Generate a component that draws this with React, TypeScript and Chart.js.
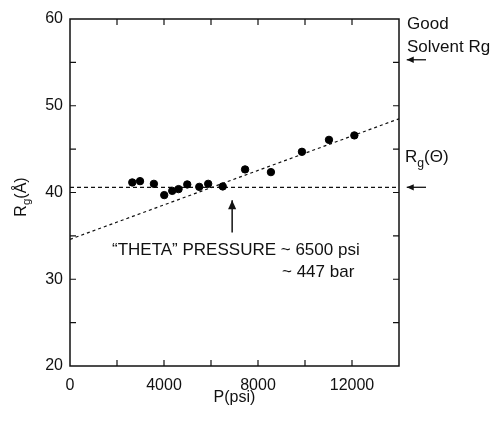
import React, { useEffect, useRef } from "react";
import { Chart, registerables } from "chart.js";

Chart.register(...registerables);

// Data
const pressurePsi = [2650, 2980, 3570, 4010, 4350, 4620, 4990, 5500, 5880, 6500, 7450, 8550, 9870, 11020, 12100];
const rgAngstrom = [41.16, 41.31, 41.0, 39.7, 40.19, 40.39, 40.93, 40.65, 41.0, 40.7, 42.66, 42.35, 44.69, 46.07, 46.58];

const thetaLineX = [0, 14000];
const thetaLineY = [40.6, 40.6];
const fitLineX = [0, 14000];
const fitLineY = [34.6, 48.5];

const xTickLabels = [0, 4000, 8000, 12000];
const yTickLabels = [20, 30, 40, 50, 60];

// arrows (data units)
const thetaArrow = { x: 6900, yFrom: 35.4, yTo: 39.1 };
const goodSolventArrowY = 55.3;
const thetaRgArrowY = 40.6;
const sideArrowX = [15150, 14330];

const FONT = "'Liberation Sans', Arial, Helvetica, sans-serif";

function drawRg(ctx: CanvasRenderingContext2D, x: number, y: number, suffix: string, size: number) {
  ctx.font = `${size}px ${FONT}`;
  ctx.textBaseline = "alphabetic";
  ctx.textAlign = "left";
  ctx.fillText("R", x, y);
  let w = ctx.measureText("R").width;
  ctx.font = `${size * 0.72}px ${FONT}`;
  ctx.fillText("g", x + w, y + size * 0.28);
  w += ctx.measureText("g").width;
  ctx.font = `${size}px ${FONT}`;
  ctx.fillText(suffix, x + w, y);
}

const framePlugin = {
  id: "framePlugin",
  afterDatasetsDraw(chart: any) {
    const { ctx, chartArea } = chart;
    const xs = chart.scales.x;
    const ys = chart.scales.y;
    const { left, right, top, bottom } = chartArea;
    ctx.save();
    ctx.strokeStyle = "#111";
    ctx.fillStyle = "#111";
    ctx.lineWidth = 1.5;
    ctx.strokeRect(left, top, right - left, bottom - top);
    ctx.lineWidth = 1.2;
    const tl = 6;
    for (let v = 2000; v < 14000; v += 2000) {
      const px = xs.getPixelForValue(v);
      ctx.beginPath();
      ctx.moveTo(px, bottom);
      ctx.lineTo(px, bottom - tl);
      ctx.moveTo(px, top);
      ctx.lineTo(px, top + tl);
      ctx.stroke();
    }
    for (let v = 25; v < 60; v += 5) {
      const py = ys.getPixelForValue(v);
      ctx.beginPath();
      ctx.moveTo(left, py);
      ctx.lineTo(left + tl, py);
      ctx.moveTo(right, py);
      ctx.lineTo(right - tl, py);
      ctx.stroke();
    }

    // arrows
    const arrow = (x1: number, y1: number, x2: number, y2: number, head: number) => {
      ctx.beginPath();
      ctx.moveTo(x1, y1);
      ctx.lineTo(x2, y2);
      ctx.stroke();
      const ang = Math.atan2(y2 - y1, x2 - x1);
      ctx.beginPath();
      ctx.moveTo(x2, y2);
      ctx.lineTo(x2 - head * Math.cos(ang) + head * 0.45 * Math.sin(ang), y2 - head * Math.sin(ang) - head * 0.45 * Math.cos(ang));
      ctx.lineTo(x2 - head * Math.cos(ang) - head * 0.45 * Math.sin(ang), y2 - head * Math.sin(ang) + head * 0.45 * Math.cos(ang));
      ctx.closePath();
      ctx.fill();
    };
    ctx.lineWidth = 1.5;
    const ax = xs.getPixelForValue(thetaArrow.x);
    arrow(ax, ys.getPixelForValue(thetaArrow.yFrom), ax, ys.getPixelForValue(thetaArrow.yTo), 9);
    const sx1 = xs.getPixelForValue(sideArrowX[0]);
    const sx2 = xs.getPixelForValue(sideArrowX[1]);
    ctx.lineWidth = 1.3;
    arrow(sx1, ys.getPixelForValue(goodSolventArrowY), sx2, ys.getPixelForValue(goodSolventArrowY), 7);
    arrow(sx1, ys.getPixelForValue(thetaRgArrowY), sx2, ys.getPixelForValue(thetaRgArrowY), 7);

    // texts
    ctx.font = `17px ${FONT}`;
    ctx.textAlign = "left";
    ctx.textBaseline = "middle";
    ctx.fillText("\u201CTHETA\u201D PRESSURE ~ 6500 psi", left + 42, 250);
    ctx.fillText("~ 447 bar", left + 212, 272);
    ctx.fillText("Good", right + 8, 24);
    ctx.fillText("Solvent Rg", right + 8, 47);
    drawRg(ctx, right + 6, 162, "(\u0398)", 17);

    // axis titles
    ctx.textAlign = "center";
    ctx.textBaseline = "middle";
    ctx.font = `16px ${FONT}`;
    ctx.fillText("P(psi)", (left + right) / 2, 398);
    ctx.save();
    ctx.translate(26, 197);
    ctx.rotate(-Math.PI / 2);
    ctx.font = `16px ${FONT}`;
    const wR = ctx.measureText("R").width;
    const wA = ctx.measureText("(\u00C5)").width;
    ctx.font = `${16 * 0.72}px ${FONT}`;
    const wg = ctx.measureText("g").width;
    drawRg(ctx, -(wR + wA + wg) / 2, 0, "(\u00C5)", 16);
    ctx.restore();
    ctx.restore();
  },
};

export default function App() {
  const ref = useRef<HTMLCanvasElement>(null);
  useEffect(() => {
    if (!ref.current) return;
    const chart = new Chart(ref.current, {
      type: "scatter",
      data: {
        datasets: [
          {
            label: "Rg",
            data: pressurePsi.map((x, i) => ({ x, y: rgAngstrom[i] })),
            backgroundColor: "#000",
            borderColor: "#000",
            pointRadius: 3.7,
            pointHoverRadius: 3.7,
          },
          {
            label: "theta",
            type: "line",
            data: thetaLineX.map((x, i) => ({ x, y: thetaLineY[i] })),
            borderColor: "#111",
            borderWidth: 1.2,
            borderDash: [4, 3],
            pointRadius: 0,
            fill: false,
          },
          {
            label: "fit",
            type: "line",
            data: fitLineX.map((x, i) => ({ x, y: fitLineY[i] })),
            borderColor: "#111",
            borderWidth: 1.2,
            borderDash: [3, 3],
            pointRadius: 0,
            fill: false,
          },
        ],
      },
      options: {
        animation: false,
        responsive: false,
        layout: { padding: { left: 0, right: 96, top: 19, bottom: 0 } },
        plugins: { legend: { display: false }, tooltip: { enabled: false } },
        scales: {
          x: {
            type: "linear",
            min: 0,
            max: 14000,
            grid: { display: false, drawTicks: false },
            border: { display: false },
            afterBuildTicks: (s: any) => {
              s.ticks = xTickLabels.map((v) => ({ value: v }));
            },
            afterFit: (s: any) => {
              s.height = 56;
            },
            ticks: {
              color: "#111",
              padding: 10,
              maxRotation: 0,
              font: { family: FONT, size: 16 },
              callback: (v: any) => String(v),
            },
          },
          y: {
            type: "linear",
            min: 20,
            max: 60,
            grid: { display: false, drawTicks: false },
            border: { display: false },
            afterBuildTicks: (s: any) => {
              s.ticks = yTickLabels.map((v) => ({ value: v }));
            },
            afterFit: (s: any) => {
              s.width = 70;
            },
            ticks: {
              color: "#111",
              padding: 7,
              font: { family: FONT, size: 16 },
              callback: (v: any) => String(v),
            },
          },
        },
      },
      plugins: [framePlugin],
    } as any);
    return () => chart.destroy();
  }, []);
  return (
    <div style={{ position: "fixed", left: 0, top: 0, width: 495, height: 422, background: "#fff" }}>
      <canvas ref={ref} width={495} height={422} style={{ width: 495, height: 422 }} />
    </div>
  );
}
